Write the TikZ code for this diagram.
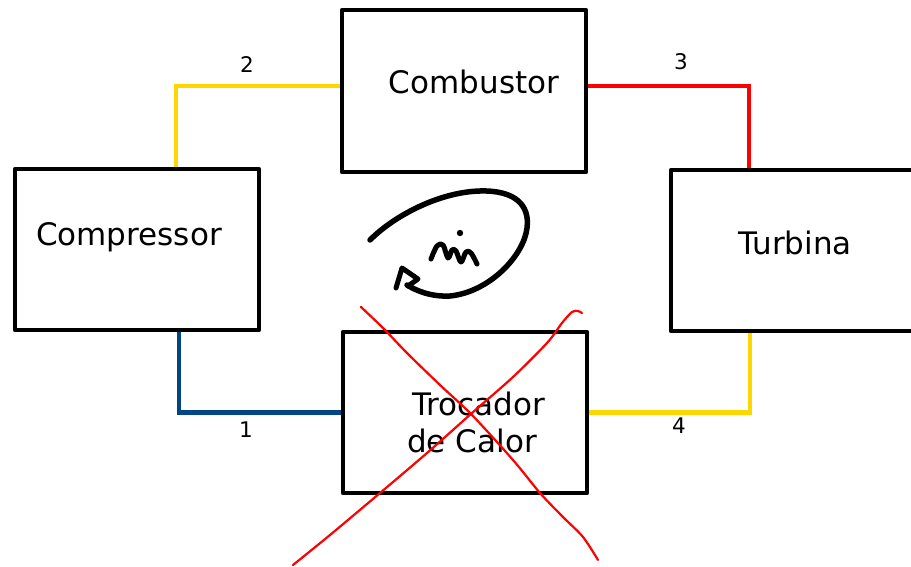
\documentclass[tikz,border=0pt]{standalone}
\usepackage{fontspec}
\setmainfont{DejaVu Sans}
\usetikzlibrary{calc}
\definecolor{flowblue}{HTML}{004586}
\definecolor{flowyellow}{HTML}{FFD700}
\definecolor{flowred}{HTML}{FF0000}
\tikzset{
  unitbox/.style={draw, line width=4.5pt, line join=round, line cap=round,
    minimum width=244pt, minimum height=161pt, inner sep=0pt},
  unitname/.style={font=\fontsize{31}{37}\selectfont, inner sep=0pt},
  statenum/.style={font=\fontsize{21.5}{26}\selectfont, inner sep=0pt},
  pipe/.style={line width=4.5pt, line join=miter},
  sketch/.style={line width=5.5pt, line cap=round, line join=round},
  cross/.style={flowred, line width=2.2pt, line cap=round, line join=round}
}
\begin{document}
\begin{tikzpicture}[x=1pt, y=-1pt]
  \useasboundingbox (0,0) rectangle (911,567);

  % equipment blocks
  \node[unitbox] (comp) at (137,249.5) {};
  \node[unitbox, minimum height=162pt] (comb) at (464,91) {};
  \node[unitbox] (turb) at (793,250.5) {};
  \node[unitbox] (troc) at (465,412.5) {};

  \node[unitname] (compname) at (129,237) {Compressor};
  \node[unitname] (combname) at (474,82) {Combustor};
  \node[unitname] (turbname) at (795,243) {Turbina};
  \node[unitname, align=left, anchor=west] (trocname) at (407,422) {\,Trocador\\de Calor};

  % process streams
  \draw[pipe, flowblue] ([xshift=42pt]comp.south) |- (troc.west);
  \draw[pipe, flowyellow] ([xshift=39pt]comp.north) |- ([yshift=5pt]comb.west);
  \draw[pipe, flowred] ([yshift=5pt]comb.east) -| ([xshift=-44pt]turb.north);
  \draw[pipe, flowyellow] ([xshift=-43pt]turb.south) |- (troc.east);

  \node[statenum] (s1) at (246,430) {1};
  \node[statenum] (s2) at (247,65) {2};
  \node[statenum] (s3) at (681,62) {3};
  \node[statenum] (s4) at (679,426) {4};

  % mass-flow loop sketched by hand
  \draw[sketch] (370,240) .. controls (395,215) and (440,192) .. (480,191)
    .. controls (515,190) and (530,205) .. (527,228)
    .. controls (524,255) and (490,292) .. (450,296)
    .. controls (430,297) and (415,290) .. (407,285);
  \draw[sketch, line width=5pt] (396,288) -- (402,268) -- (418,279) -- (408,286);
  \draw[sketch, line width=5pt] plot[smooth, tension=0.6] coordinates
    {(431,259) (437,246) (443,245) (448,258) (452,250) (456,251) (461,262)
     (466,252) (471,253) (477,264)};
  \fill (460,233) circle (3.2pt);

  % struck-out heat exchanger
  \draw[cross] plot[smooth, tension=0.5] coordinates
    {(361,307) (383,328) (407,353) (440,385) (472,415) (513,460) (540,493)
     (563,517) (583,537) (598,560)};
  \draw[cross] plot[smooth, tension=0.5] coordinates
    {(293,565) (330,535) (380,493) (427,453) (472,413) (513,377) (547,343)
     (562,323) (572,312) (578,311) (582,313)};
\end{tikzpicture}
\end{document}
